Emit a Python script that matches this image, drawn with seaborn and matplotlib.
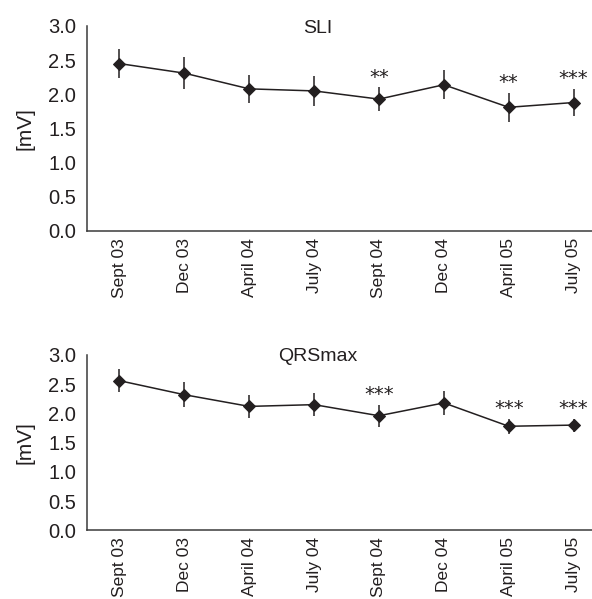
import numpy as np
import pandas as pd
import matplotlib
matplotlib.use('Agg')
import matplotlib.pyplot as plt
import seaborn as sns

# Data
months = ['Sept 03', 'Dec 03', 'April 04', 'July 04', 'Sept 04', 'Dec 04', 'April 05', 'July 05']

sli_mean = [2.45, 2.31, 2.08, 2.05, 1.93, 2.14, 1.81, 1.88]
sli_sd = [0.21, 0.23, 0.21, 0.22, 0.17, 0.21, 0.21, 0.20]
sli_stars = ['', '', '', '', '**', '', '**', '***']

qrs_mean = [2.56, 2.32, 2.12, 2.15, 1.96, 2.18, 1.78, 1.80]
qrs_sd = [0.20, 0.21, 0.20, 0.20, 0.19, 0.21, 0.13, 0.11]
qrs_stars = ['', '', '', '', '***', '', '***', '***']

y_ticks = [0.0, 0.5, 1.0, 1.5, 2.0, 2.5, 3.0]

sns.set_style('white')
plt.rcParams['font.family'] = ['Liberation Sans Narrow', 'Liberation Sans', 'DejaVu Sans']

ink = '#231f20'
spine_col = '#3a3a3a'


def draw_panel(ax, mean, sd, stars, title):
    df = pd.DataFrame({'pos': np.arange(len(months)), 'mean': mean, 'sd': sd})
    sns.lineplot(data=df, x='pos', y='mean', ax=ax, color=ink, linewidth=1.1,
                 marker='D', markersize=6.5, markeredgecolor=ink, markerfacecolor=ink)
    ax.errorbar(df['pos'], df['mean'], yerr=df['sd'], fmt='none', ecolor=ink,
                elinewidth=1.1, capsize=0)
    for x, m, s, st in zip(df['pos'], mean, sd, stars):
        if st:
            ax.text(x, m + s + 0.01, st, ha='center', va='bottom', fontsize=14,
                    color=ink, family=['DejaVu Sans'])
    ax.text(0.445, 0.99, title, transform=ax.transAxes, ha='center', va='center',
            fontsize=14, color=ink, family=['Liberation Sans', 'DejaVu Sans'])
    ax.set_xlim(-0.5, len(months) - 0.5)
    ax.set_ylim(0, 3.0)
    ax.set_yticks(y_ticks)
    ax.set_yticklabels([f'{v:.1f}' for v in y_ticks], fontsize=14.5, color=ink)
    ax.set_xticks(df['pos'])
    ax.set_xticklabels(months, rotation=90, fontsize=12.5, color=ink)
    ax.set_xticks(np.arange(len(months) + 1) - 0.5, minor=True)
    ax.tick_params(axis='x', which='major', length=0, pad=5)
    ax.tick_params(axis='x', which='minor', length=5, width=1, color=spine_col, direction='out')
    ax.tick_params(axis='y', length=5, width=1, color=spine_col, direction='out', pad=3)
    ax.set_xlabel('')
    ax.set_ylabel('[mV]', fontsize=15, color=ink, labelpad=10)
    sns.despine(ax=ax)
    for sp in ['left', 'bottom']:
        ax.spines[sp].set_color(spine_col)
        ax.spines[sp].set_linewidth(1.1)


fig = plt.figure(figsize=(5.92, 5.99), dpi=100)
ax1 = fig.add_axes([0.147, 0.6144, 0.8767, 0.3422])
ax2 = fig.add_axes([0.147, 0.1147, 0.8767, 0.2927])

draw_panel(ax1, sli_mean, sli_sd, sli_stars, 'SLI')
draw_panel(ax2, qrs_mean, qrs_sd, qrs_stars, 'QRSmax')

fig.savefig('out.png', dpi=100)
